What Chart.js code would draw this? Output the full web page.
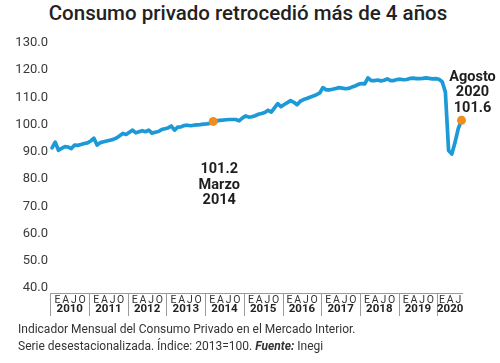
<!DOCTYPE html>
<html lang="es">
<head>
<meta charset="utf-8">
<script src="https://cdn.jsdelivr.net/npm/chart.js@4/dist/chart.umd.min.js"></script>
<style>
    html, body { margin: 0; padding: 0; background: #fff; }
    body { width: 500px; height: 363px; position: relative; overflow: hidden; font-family: Roboto, sans-serif; color: #222; }
    #titulo { position: absolute; top: 1px; left: 0; width: 496px; text-align: center; font-size: 20.5px; font-weight: 500; white-space: nowrap; }
    #grafica { position: absolute; left: 0; top: 0; }
    #nota { position: absolute; left: 18px; top: 321px; font-size: 12px; line-height: 17px; color: #333; white-space: nowrap; }
</style>
</head>
<body>
<div id="titulo">Consumo privado retrocedió más de 4 años</div>
<canvas id="grafica" width="500" height="363"></canvas>
<div id="nota">Indicador Mensual del Consumo Privado en el Mercado Interior.<br>Serie desestacionalizada. Índice: 2013=100. <b><i>Fuente:</i></b> Inegi</div>

<script>
// ============================================
// DATOS
// ============================================

const anios = ['2010', '2011', '2012', '2013', '2014', '2015', '2016', '2017', '2018', '2019', '2020'];
const letrasMes = ['E', 'A', 'J', 'O'];
const mesesPorAnio = [12, 12, 12, 12, 12, 12, 12, 12, 12, 12, 8];

// Índice mensual, enero 2010 - agosto 2020
const consumo = [
    91.5, 93.6, 90.6, 91.3, 91.9, 91.8, 91.2, 92.5, 92.4, 92.7, 93.1, 93.3,
    94.0, 95.0, 92.5, 93.4, 93.7, 94.0, 94.3, 94.6, 95.1, 95.9, 96.8, 96.4,
    97.2, 98.0, 97.0, 97.4, 97.8, 97.4, 98.0, 96.9, 97.2, 97.5, 98.2, 98.5,
    98.8, 99.5, 98.0, 99.1, 99.2, 99.7, 99.8, 99.6, 99.8, 99.9, 100.0, 100.2,
    100.3, 100.5, 101.2, 101.3, 101.6, 101.7, 101.8, 101.9, 101.9, 101.9, 101.4, 102.4,
    103.2, 102.8, 102.9, 103.3, 103.8, 104.1, 104.5, 105.3, 104.6, 106.2, 107.7, 106.6,
    107.4, 108.1, 108.8, 108.2, 107.3, 108.6, 109.2, 109.6, 110.1, 110.5, 111.0, 111.6,
    113.6, 112.8, 112.8, 113.0, 113.3, 113.6, 113.4, 113.2, 113.3, 113.8, 114.2, 114.8,
    115.1, 115.0, 117.2, 116.2, 116.2, 116.4, 116.1, 116.3, 116.8, 116.2, 116.2, 116.6,
    116.7, 116.5, 116.6, 117.0, 117.1, 116.9, 116.9, 117.0, 117.2, 117.0, 116.8, 116.9,
    116.7, 115.8, 112.0, 90.5, 89.2, 93.5, 98.6, 101.6
];

// Puntos destacados
const destacadoMes = ['2014-03', '2020-08'];
const destacadoValor = [101.2, 101.6];
const destacadoTexto = [['101.2', 'Marzo', '2014'], ['Agosto', '2020', '101.6']];

const yTicks = [40, 50, 60, 70, 80, 90, 100, 110, 120, 130];

// etiquetas "AAAA-MM"
const meses = [];
anios.forEach((a, k) => {
    for (let m = 1; m <= mesesPorAnio[k]; m++) meses.push(a + '-' + String(m).padStart(2, '0'));
});

const AZUL = '#1b9ad7';
const NARANJA = '#f28c1e';

// ============================================
// PLUGINS
// ============================================

// Eje de años con cajas E A J O
const ejeAnios = {
    id: 'ejeAnios',
    afterDraw(chart) {
        const ctx = chart.ctx;
        const x = chart.scales.x;
        const yTop = 293.5, yBottom = 316;
        ctx.save();
        ctx.strokeStyle = '#9a9a9a';
        ctx.lineWidth = 1;
        ctx.beginPath();
        ctx.moveTo(x.getPixelForValue(-0.5), yTop);
        ctx.lineTo(x.getPixelForValue(meses.length - 0.5), yTop);
        ctx.stroke();

        let inicio = 0;
        anios.forEach((anio, k) => {
            const x0 = x.getPixelForValue(inicio - 0.5);
            const x1 = x.getPixelForValue(inicio + mesesPorAnio[k] - 0.5);
            const cx = (x0 + x1) / 2;

            ctx.beginPath();
            ctx.moveTo(Math.round(x0) + 0.5, yTop);
            ctx.lineTo(Math.round(x0) + 0.5, yBottom);
            ctx.stroke();

            const nLetras = Math.ceil(mesesPorAnio[k] / 3);
            const paso = 8.2;
            ctx.fillStyle = '#333';
            ctx.font = '10.5px Roboto';
            ctx.textAlign = 'center';
            ctx.textBaseline = 'middle';
            for (let j = 0; j < nLetras; j++) {
                ctx.fillText(letrasMes[j], cx + (j - (nLetras - 1) / 2) * paso, 300);
            }
            ctx.fillStyle = '#222';
            ctx.font = 'bold 11.5px Roboto';
            ctx.fillText(anio, cx, 309);

            inicio += mesesPorAnio[k];
        });
        ctx.restore();
    }
};

// Textos de los puntos destacados
const etiquetas = {
    id: 'etiquetas',
    afterDraw(chart) {
        const ctx = chart.ctx;
        const pts = chart.getDatasetMeta(1).data;
        ctx.save();
        ctx.fillStyle = '#1e1e1e';
        ctx.font = 'bold 14.5px Roboto';
        ctx.textAlign = 'center';
        ctx.textBaseline = 'middle';
        // Marzo 2014: debajo del punto
        const p0 = pts[0];
        destacadoTexto[0].forEach((t, j) => ctx.fillText(t, p0.x + 6, p0.y + 48 + j * 15.5));
        // Agosto 2020: arriba del punto
        const p1 = pts[1];
        destacadoTexto[1].forEach((t, j) => ctx.fillText(t, p1.x + 11, p1.y - 43 + j * 15.5));
        ctx.restore();
    }
};

// ============================================
// GRÁFICA
// ============================================

new Chart(document.getElementById('grafica'), {
    type: 'line',
    data: {
        labels: meses,
        datasets: [{
            data: consumo,
            borderColor: AZUL,
            borderWidth: 3.7,
            borderJoinStyle: 'round',
            borderCapStyle: 'round',
            pointRadius: 0,
            tension: 0,
            fill: false
        }, {
            data: destacadoMes.map((m, k) => ({ x: m, y: destacadoValor[k] })),
            showLine: false,
            pointRadius: 4.5,
            pointBackgroundColor: NARANJA,
            pointBorderColor: NARANJA,
            pointBorderWidth: 0,
            order: -1
        }]
    },
    options: {
        responsive: false,
        devicePixelRatio: 1,
        animation: false,
        layout: { padding: { top: 43, bottom: 75, right: 38.5, left: 0 } },
        plugins: {
            legend: { display: false },
            tooltip: { enabled: false }
        },
        scales: {
            x: { display: false },
            y: {
                min: 40,
                max: 130,
                afterBuildTicks: s => { s.ticks = yTicks.map(v => ({ value: v })); },
                afterFit: s => { s.width = 52; },
                grid: { display: false, drawTicks: false },
                border: { display: false },
                ticks: {
                    padding: 4,
                    color: '#3a3a3a',
                    font: { family: 'Roboto', size: 13 },
                    callback: v => v.toFixed(1)
                }
            }
        }
    },
    plugins: [ejeAnios, etiquetas]
});
</script>
</body>
</html>
